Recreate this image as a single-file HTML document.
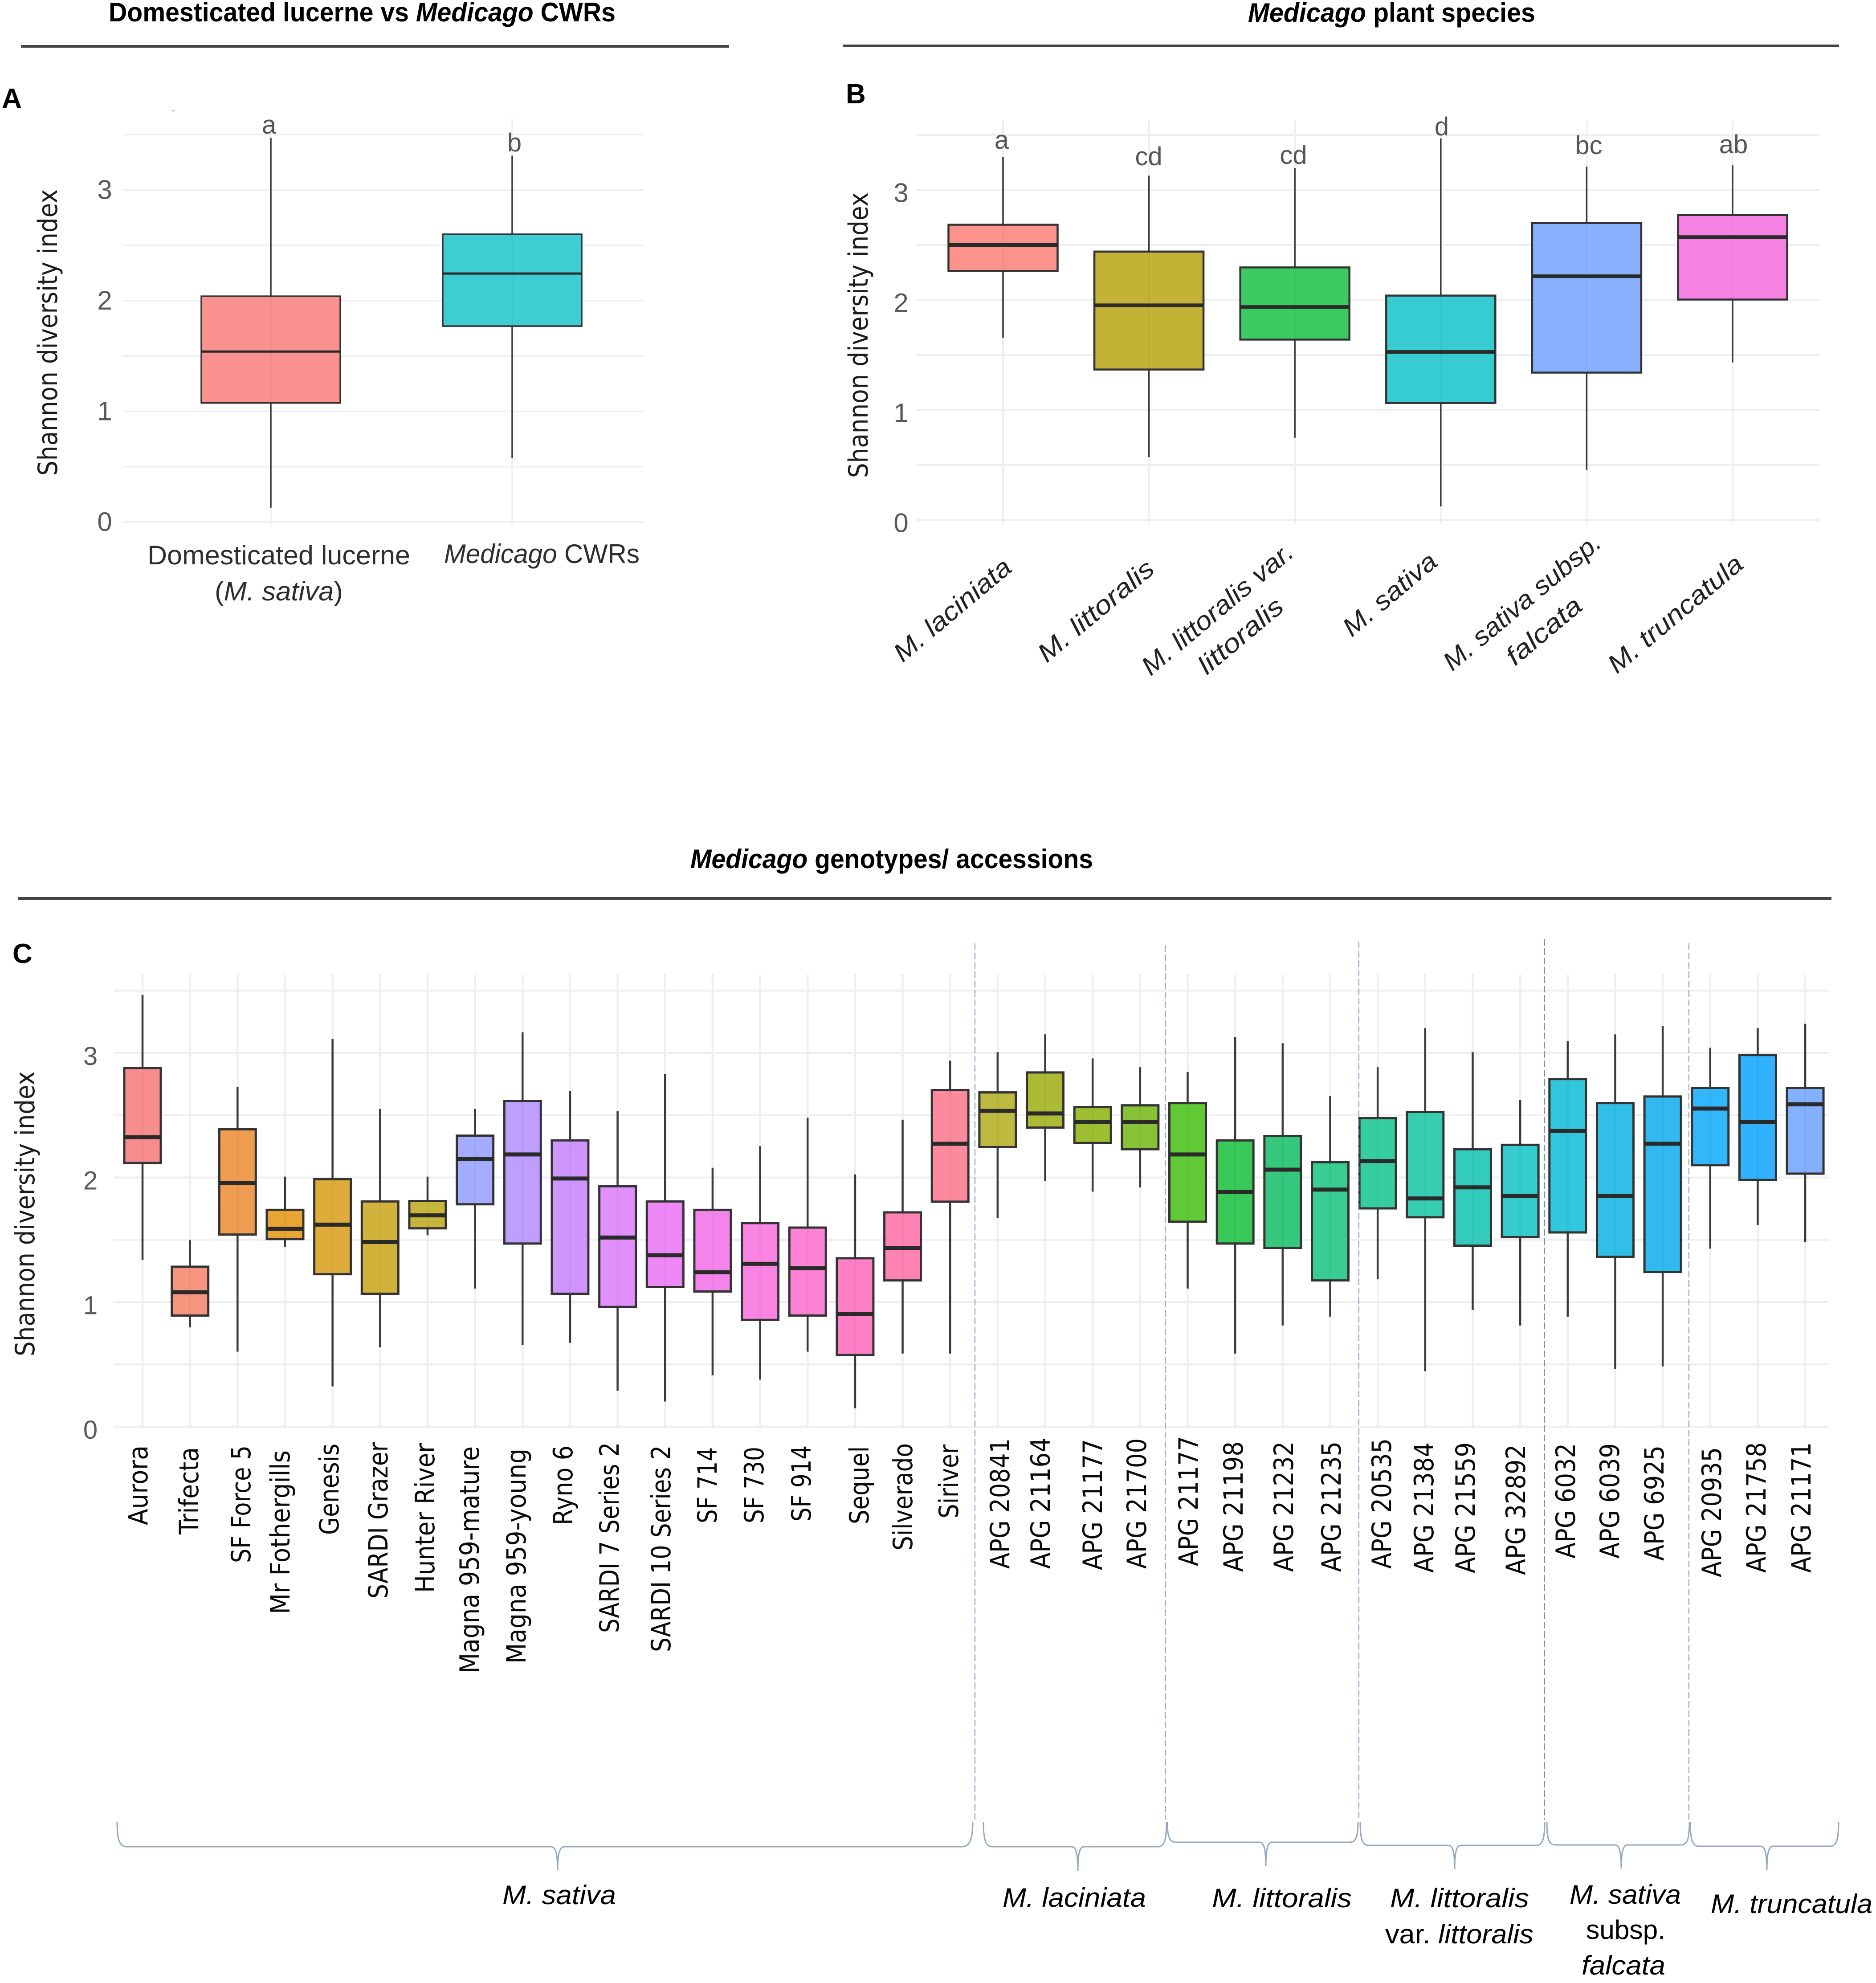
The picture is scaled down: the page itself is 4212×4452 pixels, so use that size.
<!DOCTYPE html>
<html lang="en">
<head>
<meta charset="utf-8">
<title>Shannon diversity index of Medicago</title>
<style>
html,body{margin:0;padding:0;background:#fff;width:4212px;height:4452px;overflow:hidden}
svg{display:block}
text{font-family:"Liberation Sans",sans-serif}
.dj{font-family:"DejaVu Sans","Liberation Sans",sans-serif}
.title{font-size:60px;font-weight:bold;fill:#000}
.panel{font-size:62px;font-weight:bold;fill:#000}
.axis-title{font-size:60px;fill:#1c1c1c}
.letter{font-size:58px;fill:#555;text-anchor:middle}
.xa{font-size:60px;fill:#2e2e2e}
.xb{font-size:58px;fill:#222;font-style:italic;text-anchor:middle}
.xc{font-size:60px;fill:#0a0a0a}
.grp{font-size:60px;fill:#000;font-style:italic}
.sep{stroke:#7393bd;stroke-width:2;stroke-dasharray:15 6;fill:none}
.brace{stroke:#94a8be;stroke-width:3;fill:none}
</style>
</head>
<body>
<svg id="fig" xmlns="http://www.w3.org/2000/svg" width="4212" height="4452" viewBox="0 0 4212 4452">
<rect width="4212" height="4452" fill="#fff"/>

<!-- panel headers -->
<text class="title" x="244" y="48" textLength="1138" lengthAdjust="spacingAndGlyphs">Domesticated lucerne vs <tspan font-style="italic">Medicago</tspan> CWRs</text>
<rect x="47" y="101" width="1590" height="6" fill="#444"/>
<text class="title" x="2802" y="49" textLength="645" lengthAdjust="spacingAndGlyphs"><tspan font-style="italic">Medicago</tspan> plant species</text>
<rect x="1892" y="100" width="2237" height="6" fill="#444"/>
<text class="title" x="1550" y="1949" textLength="904" lengthAdjust="spacingAndGlyphs"><tspan font-style="italic">Medicago</tspan> genotypes/ accessions</text>
<rect x="41" y="2014" width="4071" height="7" fill="#444"/>

<text class="panel" x="4" y="242">A</text>
<text class="panel" x="1899" y="232">B</text>
<text class="panel" x="28" y="2162">C</text>
<rect x="386" y="248" width="7" height="2" fill="#999"/>

<g id="panelA"></g>
<g id="panelB"></g>
<g id="panelC"></g>

<!-- y-axis titles -->
<text class="axis-title dj" transform="translate(128,1068) rotate(-90)" textLength="643" lengthAdjust="spacingAndGlyphs">Shannon diversity index</text>
<text class="axis-title dj" transform="translate(1948,1073) rotate(-90)" textLength="641" lengthAdjust="spacingAndGlyphs">Shannon diversity index</text>
<text class="axis-title dj" transform="translate(77,3045) rotate(-90)" textLength="640" lengthAdjust="spacingAndGlyphs">Shannon diversity index</text>

<!-- panel A category labels and letters -->
<text class="xa" x="331" y="1267" textLength="590" lengthAdjust="spacingAndGlyphs">Domesticated lucerne</text>
<text class="xa" x="482" y="1348" textLength="288" lengthAdjust="spacingAndGlyphs">(<tspan font-style="italic">M. sativa</tspan>)</text>
<text class="xa" x="997" y="1264" textLength="439" lengthAdjust="spacingAndGlyphs"><tspan font-style="italic">Medicago</tspan> CWRs</text>
<text class="letter" x="604" y="300">a</text>
<text class="letter" x="1155" y="340">b</text>

<!-- panel B category labels and letters -->
<text class="xb" transform="translate(2138,1369) rotate(-40)" dy="20" textLength="325" lengthAdjust="spacingAndGlyphs">M. laciniata</text>
<text class="xb" transform="translate(2460,1371) rotate(-40)" dy="20" textLength="321" lengthAdjust="spacingAndGlyphs">M. littoralis</text>
<text class="xb" transform="translate(2733,1367) rotate(-40)" dy="20" textLength="425" lengthAdjust="spacingAndGlyphs">M. littoralis var.</text>
<text class="xb" transform="translate(2785,1427) rotate(-40)" dy="20" textLength="231" lengthAdjust="spacingAndGlyphs">littoralis</text>
<text class="xb" transform="translate(3120,1334) rotate(-40)" dy="20" textLength="256" lengthAdjust="spacingAndGlyphs">M. sativa</text>
<text class="xb" transform="translate(3417,1351) rotate(-40)" dy="20" textLength="442" lengthAdjust="spacingAndGlyphs">M. sativa subsp.</text>
<text class="xb" transform="translate(3466,1416) rotate(-40)" dy="20" textLength="203" lengthAdjust="spacingAndGlyphs">falcata</text>
<text class="xb" transform="translate(3761,1378) rotate(-40)" dy="20" textLength="376" lengthAdjust="spacingAndGlyphs">M. truncatula</text>
<text class="letter" x="2249" y="334">a</text>
<text class="letter" x="2579" y="371">cd</text>
<text class="letter" x="2904" y="368">cd</text>
<text class="letter" x="3237" y="304">d</text>
<text class="letter" x="3567" y="346">bc</text>
<text class="letter" x="3892" y="344">ab</text>

<!-- panel C category labels -->
<g>
<text class="xc dj" transform="translate(331,3424) rotate(-90)" textLength="179" lengthAdjust="spacingAndGlyphs">Aurora</text>
<text class="xc dj" transform="translate(445,3445) rotate(-90)" textLength="196" lengthAdjust="spacingAndGlyphs">Trifecta</text>
<text class="xc dj" transform="translate(562,3509) rotate(-90)" textLength="264" lengthAdjust="spacingAndGlyphs">SF Force 5</text>
<text class="xc dj" transform="translate(650,3624) rotate(-90)" textLength="368" lengthAdjust="spacingAndGlyphs">Mr Fothergills</text>
<text class="xc dj" transform="translate(760,3446) rotate(-90)" textLength="205" lengthAdjust="spacingAndGlyphs">Genesis</text>
<text class="xc dj" transform="translate(870,3589) rotate(-90)" textLength="351" lengthAdjust="spacingAndGlyphs">SARDI Grazer</text>
<text class="xc dj" transform="translate(975,3576) rotate(-90)" textLength="336" lengthAdjust="spacingAndGlyphs">Hunter River</text>
<text class="xc dj" transform="translate(1075,3757) rotate(-90)" textLength="510" lengthAdjust="spacingAndGlyphs">Magna 959-mature</text>
<text class="xc dj" transform="translate(1180,3735) rotate(-90)" textLength="483" lengthAdjust="spacingAndGlyphs">Magna 959-young</text>
<text class="xc dj" transform="translate(1285,3424) rotate(-90)" textLength="179" lengthAdjust="spacingAndGlyphs">Ryno 6</text>
<text class="xc dj" transform="translate(1389,3666) rotate(-90)" textLength="428" lengthAdjust="spacingAndGlyphs">SARDI 7 Series 2</text>
<text class="xc dj" transform="translate(1505,3709) rotate(-90)" textLength="464" lengthAdjust="spacingAndGlyphs">SARDI 10 Series 2</text>
<text class="xc dj" transform="translate(1609,3420) rotate(-90)" textLength="171" lengthAdjust="spacingAndGlyphs">SF 714</text>
<text class="xc dj" transform="translate(1714,3420) rotate(-90)" textLength="172" lengthAdjust="spacingAndGlyphs">SF 730</text>
<text class="xc dj" transform="translate(1820,3416) rotate(-90)" textLength="171" lengthAdjust="spacingAndGlyphs">SF 914</text>
<text class="xc dj" transform="translate(1950,3422) rotate(-90)" textLength="175" lengthAdjust="spacingAndGlyphs">Sequel</text>
<text class="xc dj" transform="translate(2048,3481) rotate(-90)" textLength="241" lengthAdjust="spacingAndGlyphs">Silverado</text>
<text class="xc dj" transform="translate(2151,3409) rotate(-90)" textLength="166" lengthAdjust="spacingAndGlyphs">Siriver</text>
<text class="xc dj" transform="translate(2266,3522) rotate(-90)" textLength="293" lengthAdjust="spacingAndGlyphs">APG 20841</text>
<text class="xc dj" transform="translate(2357,3522) rotate(-90)" textLength="295" lengthAdjust="spacingAndGlyphs">APG 21164</text>
<text class="xc dj" transform="translate(2474,3525) rotate(-90)" textLength="294" lengthAdjust="spacingAndGlyphs">APG 21177</text>
<text class="xc dj" transform="translate(2573,3522) rotate(-90)" textLength="293" lengthAdjust="spacingAndGlyphs">APG 21700</text>
<text class="xc dj" transform="translate(2689,3516) rotate(-90)" textLength="292" lengthAdjust="spacingAndGlyphs">APG 21177</text>
<text class="xc dj" transform="translate(2790,3529) rotate(-90)" textLength="293" lengthAdjust="spacingAndGlyphs">APG 21198</text>
<text class="xc dj" transform="translate(2903,3529) rotate(-90)" textLength="293" lengthAdjust="spacingAndGlyphs">APG 21232</text>
<text class="xc dj" transform="translate(3010,3529) rotate(-90)" textLength="293" lengthAdjust="spacingAndGlyphs">APG 21235</text>
<text class="xc dj" transform="translate(3123,3522) rotate(-90)" textLength="293" lengthAdjust="spacingAndGlyphs">APG 20535</text>
<text class="xc dj" transform="translate(3218,3531) rotate(-90)" textLength="293" lengthAdjust="spacingAndGlyphs">APG 21384</text>
<text class="xc dj" transform="translate(3311,3532) rotate(-90)" textLength="294" lengthAdjust="spacingAndGlyphs">APG 21559</text>
<text class="xc dj" transform="translate(3424,3536) rotate(-90)" textLength="293" lengthAdjust="spacingAndGlyphs">APG 32892</text>
<text class="xc dj" transform="translate(3536,3499) rotate(-90)" textLength="259" lengthAdjust="spacingAndGlyphs">APG 6032</text>
<text class="xc dj" transform="translate(3635,3499) rotate(-90)" textLength="259" lengthAdjust="spacingAndGlyphs">APG 6039</text>
<text class="xc dj" transform="translate(3735,3504) rotate(-90)" textLength="259" lengthAdjust="spacingAndGlyphs">APG 6925</text>
<text class="xc dj" transform="translate(3864,3541) rotate(-90)" textLength="292" lengthAdjust="spacingAndGlyphs">APG 20935</text>
<text class="xc dj" transform="translate(3964,3531) rotate(-90)" textLength="293" lengthAdjust="spacingAndGlyphs">APG 21758</text>
<text class="xc dj" transform="translate(4065,3531) rotate(-90)" textLength="293" lengthAdjust="spacingAndGlyphs">APG 21171</text>
</g>

<!-- species separators -->
<line class="sep" x1="2189" y1="2118" x2="2189" y2="4085"/>
<line class="sep" x1="2616" y1="2122" x2="2616" y2="4085"/>
<line class="sep" x1="3051" y1="2114" x2="3051" y2="4085"/>
<line class="sep" x1="3468" y1="2108" x2="3468" y2="4085"/>
<line class="sep" x1="3792" y1="2118" x2="3792" y2="4085"/>

<!-- species braces -->
<path class="brace" d="M263 4090C263 4125 266 4146 285 4146L1236 4146C1248 4146 1252 4162 1252 4199C1252 4162 1256 4146 1268 4146L2160 4146C2179 4146 2184 4125 2184 4090"/>
<path class="brace" d="M2208 4090C2208 4125 2211 4146 2228 4146L2406 4146C2416 4146 2420 4162 2420 4200C2420 4162 2424 4146 2434 4146L2600 4146C2616 4146 2619 4125 2619 4090"/>
<path class="brace" d="M2621 4090C2621 4120 2624 4136 2640 4136L2828 4136C2838 4136 2842 4152 2842 4190C2842 4152 2846 4136 2856 4136L3030 4136C3046 4136 3049 4120 3049 4090"/>
<path class="brace" d="M3054 4090C3054 4125 3057 4143 3073 4143L3252 4143C3262 4143 3266 4159 3266 4197C3266 4159 3270 4143 3280 4143L3449 4143C3465 4143 3468 4125 3468 4090"/>
<path class="brace" d="M3473 4090C3473 4125 3476 4142 3492 4142L3626 4142C3636 4142 3640 4158 3640 4195C3640 4158 3644 4142 3654 4142L3774 4142C3790 4142 3793 4125 3793 4090"/>
<path class="brace" d="M3795 4090C3795 4125 3798 4145 3814 4145L3953 4145C3963 4145 3967 4161 3967 4199C3967 4161 3971 4145 3981 4145L4109 4145C4125 4145 4128 4125 4128 4090"/>

<!-- species group labels -->
<text class="grp" x="1128" y="4275" textLength="255" lengthAdjust="spacingAndGlyphs">M. sativa</text>
<text class="grp" x="2251" y="4281" textLength="322" lengthAdjust="spacingAndGlyphs">M. laciniata</text>
<text class="grp" x="2721" y="4282" textLength="314" lengthAdjust="spacingAndGlyphs">M. littoralis</text>
<text class="grp" x="3121" y="4282" textLength="312" lengthAdjust="spacingAndGlyphs">M. littoralis</text>
<text class="grp" x="3110" y="4363" textLength="333" lengthAdjust="spacingAndGlyphs"><tspan font-style="normal">var.</tspan> littoralis</text>
<text class="grp" x="3524" y="4274" textLength="250" lengthAdjust="spacingAndGlyphs">M. sativa</text>
<text class="grp" x="3561" y="4353" textLength="178" lengthAdjust="spacingAndGlyphs" style="font-style:normal">subsp.</text>
<text class="grp" x="3551" y="4433" textLength="188" lengthAdjust="spacingAndGlyphs">falcata</text>
<text class="grp" x="3841" y="4295" textLength="363" lengthAdjust="spacingAndGlyphs">M. truncatula</text>
</svg>

<script>
// ---------- shared axis values ----------
const yTickValues = [0, 1, 2, 3];
const yMinorValues = [0.5, 1.5, 2.5, 3.5];

// ---------- panel A ----------
const aCategories = ['Domesticated lucerne (M. sativa)', 'Medicago CWRs'];
const aHigh = [3.47, 3.31];
const aQ3 = [2.04, 2.60];
const aMedian = [1.54, 2.245];
const aQ1 = [1.076, 1.77];
const aLow = [0.13, 0.577];
const aColors = ['#F98D8A', '#36CCD2'];

// ---------- panel B ----------
const bCategories = ['M. laciniata', 'M. littoralis', 'M. littoralis var. littoralis', 'M. sativa', 'M. sativa subsp. falcata', 'M. truncatula'];
const bHigh = [3.30, 3.13, 3.20, 3.468, 3.212, 3.224];
const bQ3 = [2.684, 2.44, 2.296, 2.04, 2.70, 2.772];
const bMedian = [2.50, 1.952, 1.936, 1.528, 2.216, 2.572];
const bQ1 = [2.264, 1.368, 1.64, 1.064, 1.34, 2.004];
const bLow = [1.656, 0.572, 0.748, 0.124, 0.456, 1.432];
const bColors = ['#FB8F88', '#C2B030', '#36C95E', '#30CAD0', '#83AEFF', '#F67EE3'];

// ---------- panel C ----------
const cCategories = ['Aurora', 'Trifecta', 'SF Force 5', 'Mr Fothergills', 'Genesis', 'SARDI Grazer', 'Hunter River', 'Magna 959-mature', 'Magna 959-young', 'Ryno 6', 'SARDI 7 Series 2', 'SARDI 10 Series 2', 'SF 714', 'SF 730', 'SF 914', 'Sequel', 'Silverado', 'Siriver', 'APG 20841', 'APG 21164', 'APG 21177', 'APG 21700', 'APG 21177 (littoralis)', 'APG 21198', 'APG 21232', 'APG 21235', 'APG 20535', 'APG 21384', 'APG 21559', 'APG 32892', 'APG 6032', 'APG 6039', 'APG 6925', 'APG 20935', 'APG 21758', 'APG 21171'];
const cHigh = [3.466, 1.497, 2.728, 2.007, 3.113, 2.55, 2.007, 2.55, 3.166, 2.692, 2.532, 2.831, 2.078, 2.253, 2.481, 2.025, 2.464, 2.938, 3.006, 3.149, 2.956, 2.885, 2.849, 3.128, 3.077, 2.656, 2.885, 3.199, 3.006, 2.621, 3.095, 3.149, 3.217, 3.042, 3.199, 3.234];
const cQ3 = [2.879, 1.284, 2.387, 1.74, 1.986, 1.808, 1.811, 2.336, 2.615, 2.298, 1.93, 1.808, 1.74, 1.634, 1.598, 1.352, 1.72, 2.701, 2.683, 2.843, 2.565, 2.579, 2.597, 2.298, 2.333, 2.123, 2.476, 2.526, 2.227, 2.262, 2.79, 2.597, 2.65, 2.719, 2.983, 2.719];
const cMedian = [2.324, 1.079, 1.957, 1.589, 1.622, 1.482, 1.696, 2.149, 2.185, 1.992, 1.518, 1.376, 1.239, 1.307, 1.272, 0.904, 1.432, 2.271, 2.535, 2.514, 2.446, 2.446, 2.185, 1.886, 2.063, 1.903, 2.132, 1.832, 1.921, 1.85, 2.375, 1.85, 2.271, 2.553, 2.446, 2.588];
const cQ1 = [2.117, 0.892, 1.542, 1.506, 1.224, 1.067, 1.592, 1.785, 1.47, 1.067, 0.961, 1.121, 1.085, 0.857, 0.892, 0.575, 1.174, 1.806, 2.244, 2.401, 2.277, 2.227, 1.645, 1.47, 1.435, 1.174, 1.752, 1.681, 1.453, 1.521, 1.559, 1.364, 1.242, 2.099, 1.98, 2.031];
const cLow = [1.337, 0.797, 0.602, 1.444, 0.323, 0.637, 1.536, 1.109, 0.655, 0.673, 0.288, 0.202, 0.412, 0.377, 0.602, 0.148, 0.587, 0.587, 1.675, 1.972, 1.886, 1.921, 1.109, 0.587, 0.812, 0.883, 1.183, 0.445, 0.937, 0.812, 0.883, 0.465, 0.483, 1.429, 1.619, 1.482];
const cColors = ['#F8898A', '#F7937A', '#F09A4C', '#E8A22D', '#DCA935', '#CFB035', '#C4B436', '#A1A9FF', '#BC9BFF', '#CC92FE', '#DF8BFB', '#EB83F5', '#F57FEB', '#FA80E0', '#FB7ED4', '#FD7BC4', '#FE7FAF', '#FD859A', '#BCB83A', '#AAB82E', '#9BBC2B', '#84C030', '#5BC72E', '#33C753', '#2EC678', '#33CA8F', '#2FCB9E', '#2FCBAE', '#2BC9BB', '#2FC9CC', '#2BC4DB', '#2BBDE6', '#2BB7F0', '#2BB5FB', '#2BAEFF', '#7FADFF'];

const NS = 'http://www.w3.org/2000/svg';

function mk(tag, attrs, parent) {
  const el = document.createElementNS(NS, tag);
  for (const k in attrs) el.setAttribute(k, attrs[k]);
  parent.appendChild(el);
  return el;
}

function drawPanel(panelId, prefix, cfg, categories, low, q1, median, q3, high, colors) {
  const root = document.getElementById(panelId);
  const y = v => cfg.y0 - v * cfg.unit;
  const x = i => cfg.x0 + i * cfg.step;

  yMinorValues.concat(yTickValues).forEach(v => {
    const line = mk('line', {x1: cfg.left, x2: cfg.right, y1: y(v), y2: y(v), stroke: '#efefef', 'stroke-width': cfg.grid}, root);
    
    
  });
  categories.forEach((c, i) => {
    const line = mk('line', {x1: x(i), x2: x(i), y1: cfg.gridTop, y2: cfg.gridBottom, stroke: '#efefef', 'stroke-width': cfg.grid}, root);
    
    
  });
  yTickValues.forEach(v => {
    const t = mk('text', {x: cfg.tickX, y: y(v) + cfg.tickDy, 'text-anchor': 'middle', 'font-size': cfg.tickSize, fill: '#5a5a5a'}, root);
    t.textContent = String(v);
    
    
  });
  categories.forEach((c, i) => {
    const cx = x(i);
    const whisker = mk('line', {x1: cx, x2: cx, y1: y(high[i]), y2: y(low[i]), stroke: '#3a3a3a', 'stroke-width': cfg.whisker}, root);
    
    
    const box = mk('rect', {x: cx - cfg.box / 2, y: y(q3[i]), width: cfg.box, height: y(q1[i]) - y(q3[i]), fill: colors[i], 'fill-opacity': 0.97, stroke: '#333', 'stroke-width': cfg.boxStroke}, root);
    
    
    const med = mk('line', {x1: cx - cfg.box / 2, x2: cx + cfg.box / 2, y1: y(median[i]), y2: y(median[i]), stroke: '#2a2a2a', 'stroke-width': cfg.medianStroke}, root);
    
    
  });
}

drawPanel('panelA', 'panel-a',
  {y0: 1172, unit: 248.5, x0: 608, step: 542, left: 275, right: 1446, gridTop: 266, gridBottom: 1180, tickX: 235, tickDy: 20, tickSize: 60, box: 312, grid: 3.5, whisker: 3.5, boxStroke: 3.5, medianStroke: 5},
  aCategories, aLow, aQ1, aMedian, aQ3, aHigh, aColors);

drawPanel('panelB', 'panel-b',
  {y0: 1167.5, unit: 247, x0: 2252, step: 327.6, left: 2056, right: 4087, gridTop: 269, gridBottom: 1176, tickX: 2023, tickDy: 27, tickSize: 60, box: 245, grid: 4, whisker: 3.5, boxStroke: 4.5, medianStroke: 8},
  bCategories, bLow, bQ1, bMedian, bQ3, bHigh, bColors);

drawPanel('panelC', 'panel-c',
  {y0: 3203, unit: 279.7, x0: 320, step: 106.66, left: 255, right: 4107, gridTop: 2187, gridBottom: 3207, tickX: 203, tickDy: 27, tickSize: 58, box: 82, grid: 4.5, whisker: 4.5, boxStroke: 5, medianStroke: 9},
  cCategories, cLow, cQ1, cMedian, cQ3, cHigh, cColors);
</script>
</body>
</html>
